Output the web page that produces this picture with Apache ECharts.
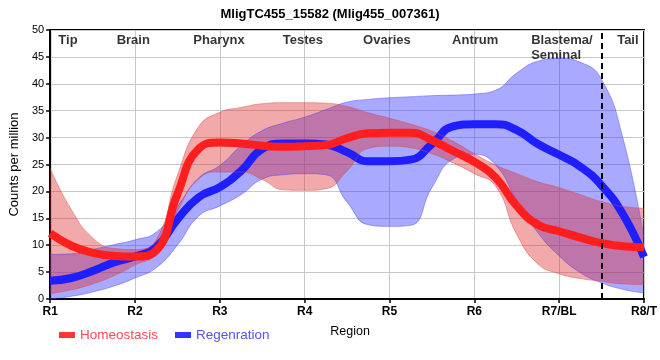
<!DOCTYPE html>
<html>
<head>
<meta charset="utf-8">
<script src="https://cdn.jsdelivr.net/npm/echarts@6/dist/echarts.min.js"></script>
<style>html,body{margin:0;padding:0;background:#fff}#c{width:660px;height:360px}</style>
</head>
<body>
<div id="c"></div>
<script>
// Region positions along the body (R1..R8), sampled every quarter region
const xs = [1,1.25,1.5,1.75,2,2.25,2.5,2.75,3,3.25,3.5,3.75,4,4.25,4.5,4.75,5,5.25,5.5,5.75,6,6.25,6.5,6.75,7,7.25,7.5,7.75,8];
// Homeostasis (red): mean and band
const hmMean = [12.2,9.9,8.6,8.0,7.9,9.0,19.5,27.9,29.1,28.9,28.5,28.3,28.4,28.6,29.9,30.8,30.9,30.9,29.5,27.5,25.5,22.6,17.3,13.8,12.6,11.4,10.4,9.8,9.6];
const hmHigh = [24.3,16.6,11.4,9.4,9.2,11.0,23.0,32.0,34.7,35.6,36.3,36.5,36.5,36.4,35.8,34.6,33.6,32.5,31.2,29.3,27.0,24.9,23.3,21.8,20.7,19.4,18.1,17.2,16.9];
const hmLow  = [1.0,1.7,2.8,4.3,6.3,8.4,16.3,22.3,23.6,23.6,22.2,20.3,20.2,20.5,23.8,28.0,28.4,28.1,27.0,25.3,23.3,21.0,12.0,6.5,4.7,3.8,3.3,2.8,2.7];
// Regeneration (blue): mean and band
const rgMean = [3.4,3.9,5.2,6.8,7.9,9.6,14.8,18.9,20.8,23.8,27.9,28.9,28.9,28.7,27.3,25.6,25.6,25.9,28.8,32.1,32.5,32.5,31.4,28.8,26.8,24.6,21.1,15.8,7.8];
const rgHigh = [8.3,8.4,9.2,10.1,11.0,12.4,17.2,22.5,24.8,28.5,31.3,32.7,33.8,35.2,36.6,37.1,37.4,37.6,37.8,37.9,38.1,38.8,42.0,44.2,44.7,44.0,40.8,30.0,11.3];
const rgLow  = [0,0.5,1.3,2.4,3.9,5.8,10.0,15.4,17.3,19.4,22.3,23.1,23.3,23.1,18.0,13.8,13.5,13.7,20.7,26.0,26.9,24.9,18.3,12.3,8.0,4.9,3.0,1.8,1.1];
// Axis tick labels (one per whole region)
const xTickLabels = ['R1','R2','R3','R4','R5','R6','R7/BL','R8/T'];
// Region names along the top
const regionNames = ['Tip','Brain','Pharynx','Testes','Ovaries','Antrum','Blastema/\nSeminal','Tail'];
const regionX = [1.21,1.98,2.99,3.98,4.97,6.01,6.67,7.81];
const boundaryX = 7.5;

const cats = xs.map(String);
const diff = (hi, lo) => hi.map((v, i) => +(v - lo[i]).toFixed(2));
const isWhole = (idx) => Number.isInteger(xs[idx]);

const RED = '#ff1e1e', BLUE = '#1e1eff';
const SM = 0.5;
const FONT = 'Liberation Sans, Arial, sans-serif';

const chart = echarts.init(document.getElementById('c'), null, {renderer: 'canvas'});
chart.setOption({
  animation: false,
  backgroundColor: '#fff',
  textStyle: {fontFamily: FONT},
  title: {
    text: 'MligTC455_15582 (Mlig455_007361)',
    left: 'center', top: 3,
    textStyle: {fontSize: 13, fontWeight: 'bold', color: '#000', fontFamily: FONT}
  },
  grid: {left: 50, right: 10, top: 30, bottom: 61, show: true, borderColor: '#000', borderWidth: 2},
  legend: {
    left: 54, top: 323, icon: 'rect', itemWidth: 16, itemHeight: 6, itemGap: 17,
    textStyle: {fontSize: 13.5, fontFamily: FONT},
    data: [
      {name: 'Homeostasis', itemStyle: {color: '#ff3535'}, textStyle: {color: '#ff4a52'}},
      {name: 'Regenration', itemStyle: {color: '#3535ff'}, textStyle: {color: '#5252ff'}}
    ]
  },
  xAxis: [{
    type: 'category', data: cats, boundaryGap: false,
    name: 'Region', nameLocation: 'middle', nameGap: 26,
    nameTextStyle: {fontSize: 12.5, color: '#000', padding: [0, 0, 0, 6]},
    axisLine: {show: true, lineStyle: {color: '#000', width: 2}},
    axisTick: {show: true, length: 4, interval: (i) => isWhole(i), lineStyle: {color: '#000', width: 1.5}},
    axisLabel: {color: '#000', fontSize: 12, fontWeight: 'bold', margin: 7,
      interval: (i) => isWhole(i),
      formatter: (v) => xTickLabels[Math.round(+v) - 1] || ''},
    splitLine: {show: true, interval: (i) => isWhole(i), lineStyle: {color: '#c8c8c8', width: 1}}
  }, {
    type: 'value', min: 1, max: 8, show: false, position: 'bottom'
  }],
  yAxis: {
    type: 'value', min: 0, max: 50, interval: 5,
    name: 'Counts per million', nameLocation: 'middle', nameGap: 25,
    nameTextStyle: {fontSize: 13, color: '#000'},
    axisLine: {show: true, lineStyle: {color: '#000', width: 2}},
    axisTick: {show: true, length: 4, lineStyle: {color: '#000', width: 1.5}},
    axisLabel: {color: '#000', fontSize: 11, margin: 6},
    splitLine: {show: true, lineStyle: {color: '#c8c8c8', width: 1}}
  },
  series: [
    {name: 'rgLowBase', type: 'line', stack: 'rg', data: rgLow, smooth: SM,
      symbol: 'none', silent: true, lineStyle: {width: 1, color: 'rgba(70,70,240,0.45)'}},
    {name: 'rgBand', type: 'line', stack: 'rg', data: diff(rgHigh, rgLow), smooth: SM,
      symbol: 'none', silent: true, lineStyle: {width: 1, color: 'rgba(70,70,240,0.45)'},
      areaStyle: {color: 'rgba(50,50,255,0.42)', opacity: 1}},
    {name: 'Regenration', type: 'line', data: rgMean, smooth: SM,
      symbol: 'none', itemStyle: {color: BLUE}, lineStyle: {width: 8, color: BLUE}},
    {name: 'hmLowBase', type: 'line', stack: 'hm', data: hmLow, smooth: SM,
      symbol: 'none', silent: true, lineStyle: {width: 1, color: 'rgba(210,70,70,0.45)'}},
    {name: 'hmBand', type: 'line', stack: 'hm', data: diff(hmHigh, hmLow), smooth: SM,
      symbol: 'none', silent: true, lineStyle: {width: 1, color: 'rgba(210,70,70,0.45)'},
      areaStyle: {color: 'rgba(222,40,40,0.40)', opacity: 1}},
    {name: 'Homeostasis', type: 'line', data: hmMean, smooth: SM,
      symbol: 'none', itemStyle: {color: RED}, lineStyle: {width: 8, color: RED},
      markLine: {silent: true, symbol: 'none', label: {show: false},
        lineStyle: {color: '#000', width: 2, type: [6, 4]},
        data: [{xAxis: String(boundaryX)}]}},
    {name: 'regions', type: 'scatter', xAxisIndex: 1, symbolSize: 1, silent: true,
      itemStyle: {color: 'rgba(0,0,0,0)'},
      data: regionNames.map((n, i) => ({
        value: [regionX[i], 50], name: n,
        label: n.indexOf('\n') >= 0 ? {align: 'left'} : {}
      })),
      label: {show: true, position: 'bottom', distance: 2, formatter: (p) => p.name,
        fontSize: 13, fontWeight: 'bold', color: '#000', lineHeight: 15, fontFamily: FONT}}
  ]
});
</script>
</body>
</html>
